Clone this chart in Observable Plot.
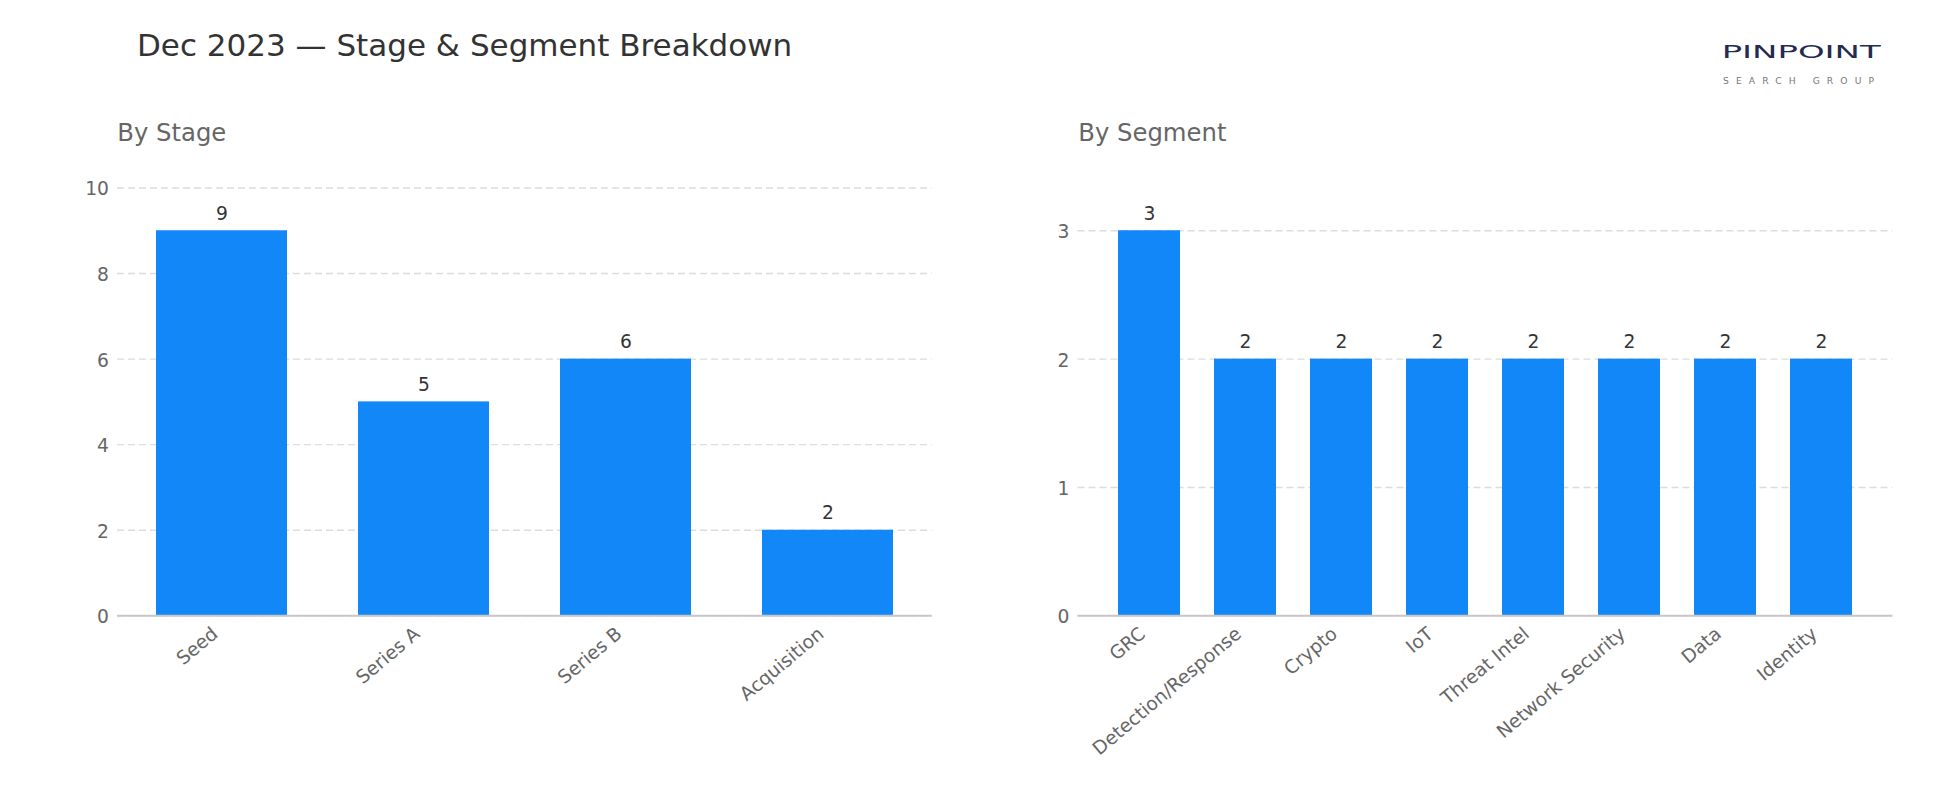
<!DOCTYPE html>
<html><head><meta charset="utf-8">
<script src="https://cdn.jsdelivr.net/npm/d3@7"></script>
<script src="https://cdn.jsdelivr.net/npm/@observablehq/plot@0.6"></script>
<style>
html,body{margin:0;padding:0;background:#fff;}
#root{position:relative;width:1950px;height:810px;overflow:hidden;font-family:"DejaVu Sans",sans-serif;}
#root svg{position:absolute;top:0;}
</style></head><body><div id="root"></div>
<script>
const stages = ["Seed", "Series A", "Series B", "Acquisition"];
const stageCounts = [9, 5, 6, 2];
const segments = ["GRC", "Detection/Response", "Crypto", "IoT", "Threat Intel", "Network Security", "Data", "Identity"];
const segmentCounts = [3, 2, 2, 2, 2, 2, 2, 2];
const stageTicks = [0, 2, 4, 6, 8, 10];
const segmentTicks = [0, 1, 2, 3];
const titleText = "Dec 2023 — Stage & Segment Breakdown";
const panelTitles = ["By Stage", "By Segment"];
const logoMain = "PINPOINT";
const logoSub = "SEARCH GROUP";

const BAR = "#1288f8";
const FS = 18.7;

function panel(cats, vals, ticks, outer, left, mL, mR) {
  const data = cats.map((c, i) => ({cat: c, value: vals[i]}));
  const ymax = d3.max(vals) * 1.15;
  const svg = Plot.plot({
    width: 975, height: 810,
    marginLeft: mL, marginRight: mR, marginTop: 172.5, marginBottom: 194.7,
    style: {fontFamily: "DejaVu Sans, sans-serif", fontSize: FS + "px", color: "#666", background: "transparent", overflow: "visible"},
    x: {domain: cats, paddingInner: 0.35, paddingOuter: outer, align: 0.5, axis: null},
    y: {domain: [0, ymax], axis: null},
    marks: [
      Plot.gridY(ticks, {stroke: "#dcdcdc", strokeOpacity: 1, strokeWidth: 1.4, strokeDasharray: "7,4"}),
      Plot.axisY(ticks, {tickSize: 0, tickPadding: 8.5, fill: "#666", fontSize: FS, label: null, dy: 1.5, tickFormat: d => String(d)}),
      Plot.barY(data, {x: "cat", y: "value", fill: BAR}),
      Plot.ruleY([0], {stroke: "#c6c6c6", strokeWidth: 2}),
      Plot.text(data, {x: "cat", y: "value", text: d => String(d.value), lineAnchor: "bottom", dy: -11, fill: "#333", fontSize: FS}),
      Plot.text(data, {x: "cat", y: () => 0, text: "cat", rotate: -40, textAnchor: "end", lineAnchor: "bottom", dx: -3, dy: 20, fill: "#666", fontSize: FS})
    ]
  });
  svg.style.left = left + "px";
  return svg;
}

const root = document.getElementById("root");
root.appendChild(panel(stages, stageCounts, stageTicks, 0.1825, 0, 117, 975 - 931.7));
root.appendChild(panel(segments, segmentCounts, segmentTicks, 0.3825, 975, 1077.5 - 975, 1950 - 1892.3));

const ns = "http://www.w3.org/2000/svg";
const head = document.createElementNS(ns, "svg");
head.setAttribute("width", 1950);
head.setAttribute("height", 160);
head.style.left = "0px";
head.style.fontFamily = "DejaVu Sans, sans-serif";
function addText(txt, attrs) {
  const t = document.createElementNS(ns, "text");
  for (const k in attrs) t.setAttribute(k, attrs[k]);
  t.textContent = txt;
  head.appendChild(t);
}
addText(titleText, {x: 137, y: 56, "font-size": 31, fill: "#333"});
addText(panelTitles[0], {x: 117.3, y: 140.7, "font-size": 24.3, fill: "#666"});
addText(panelTitles[1], {x: 1078.3, y: 140.7, "font-size": 24.3, fill: "#666"});
addText(logoMain, {x: 1721.7, y: 57.7, "font-size": 17.6, fill: "#252a50", "font-family": "DejaVu Sans, sans-serif", "font-weight": 400, textLength: 159, lengthAdjust: "spacingAndGlyphs"});
addText(logoSub, {x: 1723, y: 84, "font-size": 9.2, fill: "#777", "font-family": "DejaVu Sans, sans-serif", textLength: 151, lengthAdjust: "spacing"});
root.appendChild(head);
</script></body></html>
